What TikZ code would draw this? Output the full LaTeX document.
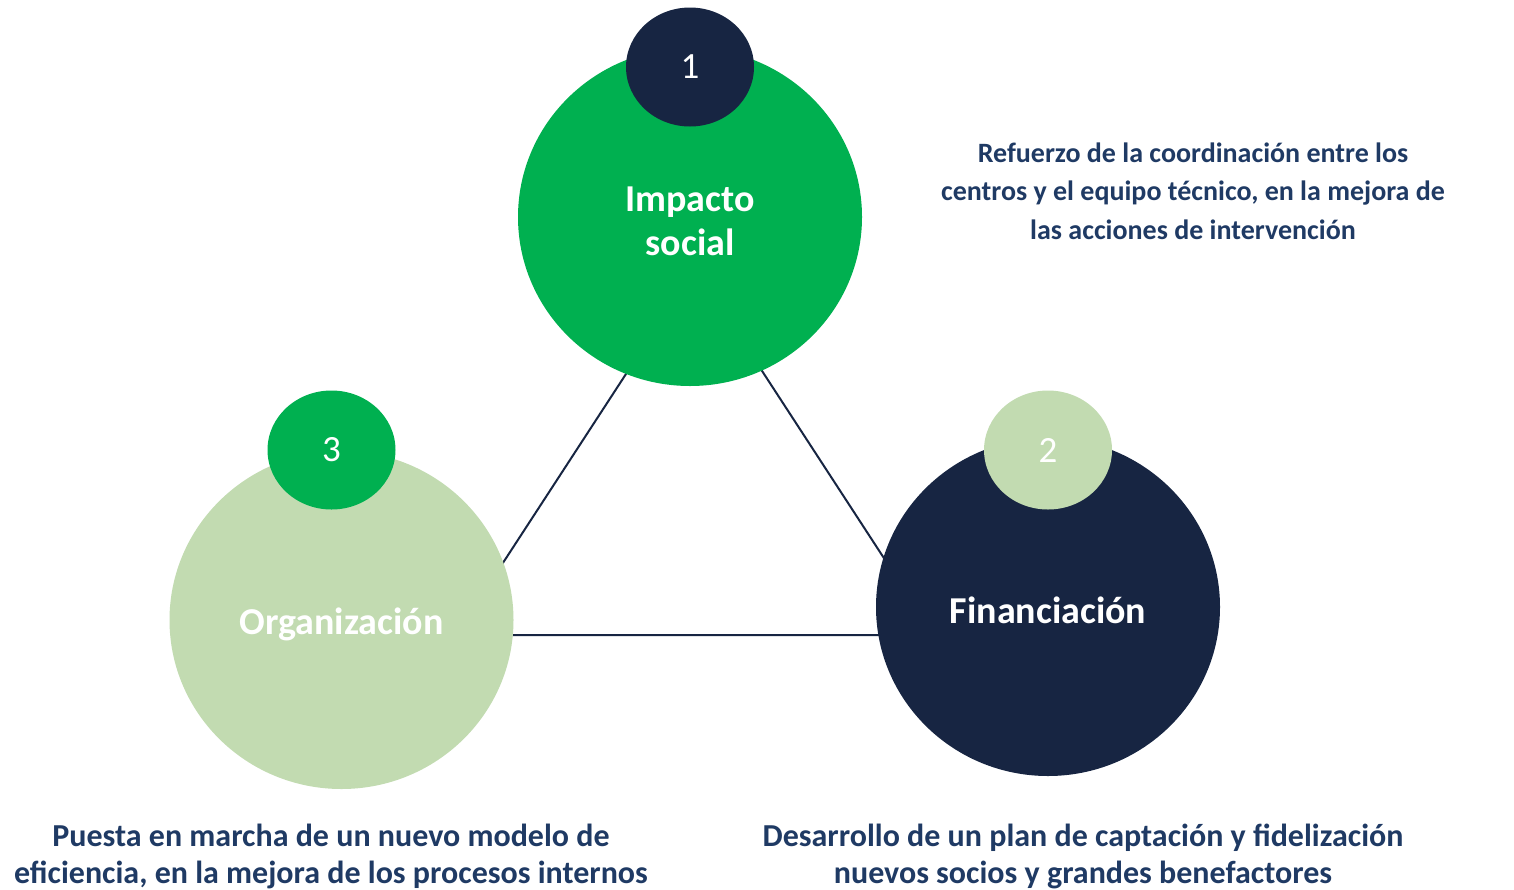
\documentclass[tikz,border=0pt]{standalone}
\usepackage{fontspec}
\setmainfont{Carlito}
\usetikzlibrary{shapes.geometric}
\definecolor{cgreen}{HTML}{00B050}
\definecolor{cnavy}{HTML}{172542}
\definecolor{clight}{HTML}{C2DBB1}
\definecolor{ctext}{HTML}{1F3A64}
\tikzset{
  big/.style={ellipse, inner sep=0pt, minimum width=344pt, minimum height=338pt},
  bigtext/.style={inner sep=0pt, text=white, font=\fontsize{38}{44}\selectfont\bfseries, align=center},
  small/.style={ellipse, inner sep=0pt, minimum width=128pt, minimum height=119pt, text=white, font=\fontsize{37}{40}\selectfont},
  desc/.style={text=ctext, font=\fontsize{28}{38.5}\selectfont\bfseries, align=center, inner sep=0pt},
  descb/.style={text=ctext, font=\fontsize{32}{37}\selectfont\bfseries, align=center, inner sep=0pt},
  tri/.style={draw=cnavy, line width=2pt}
}
\begin{document}
\begin{tikzpicture}[x=1pt,y=-1pt]
\useasboundingbox (0,0) rectangle (1514,889);
\coordinate (tA) at (695,268);
\coordinate (tB) at (456,635);
\coordinate (tC) at (934,635);
\draw[tri] (tA) -- (tB) -- (tC) -- cycle;
\node[big, fill=cgreen] (imp) at (690,217) {};
\node[big, fill=clight] (org) at (341.5,620) {};
\node[big, fill=cnavy] (fin) at (1048,607) {};
\node[bigtext] (impT) at (690,221) {Impacto\\social};
\node[bigtext] (orgT) at (341.5,624) {Organización};
\node[bigtext] (finT) at (1048,610) {Financiación};
\node[small, fill=cnavy] (n1) at (690,67) {1};
\node[small, fill=cgreen] (n3) at (331.5,450) {3};
\node[small, fill=clight] (n2) at (1048,450) {2};
\node[desc] (d1) at (1193,191) {Refuerzo de la coordinación entre los\\centros y el equipo técnico, en la mejora de\\las acciones de intervención};
\node[descb] (d3) at (331,856) {Puesta en marcha de un nuevo modelo de\\eficiencia, en la mejora de los procesos internos};
\node[descb] (d2) at (1083,856) {Desarrollo de un plan de captación y fidelización\\nuevos socios y grandes benefactores};
\end{tikzpicture}
\end{document}
